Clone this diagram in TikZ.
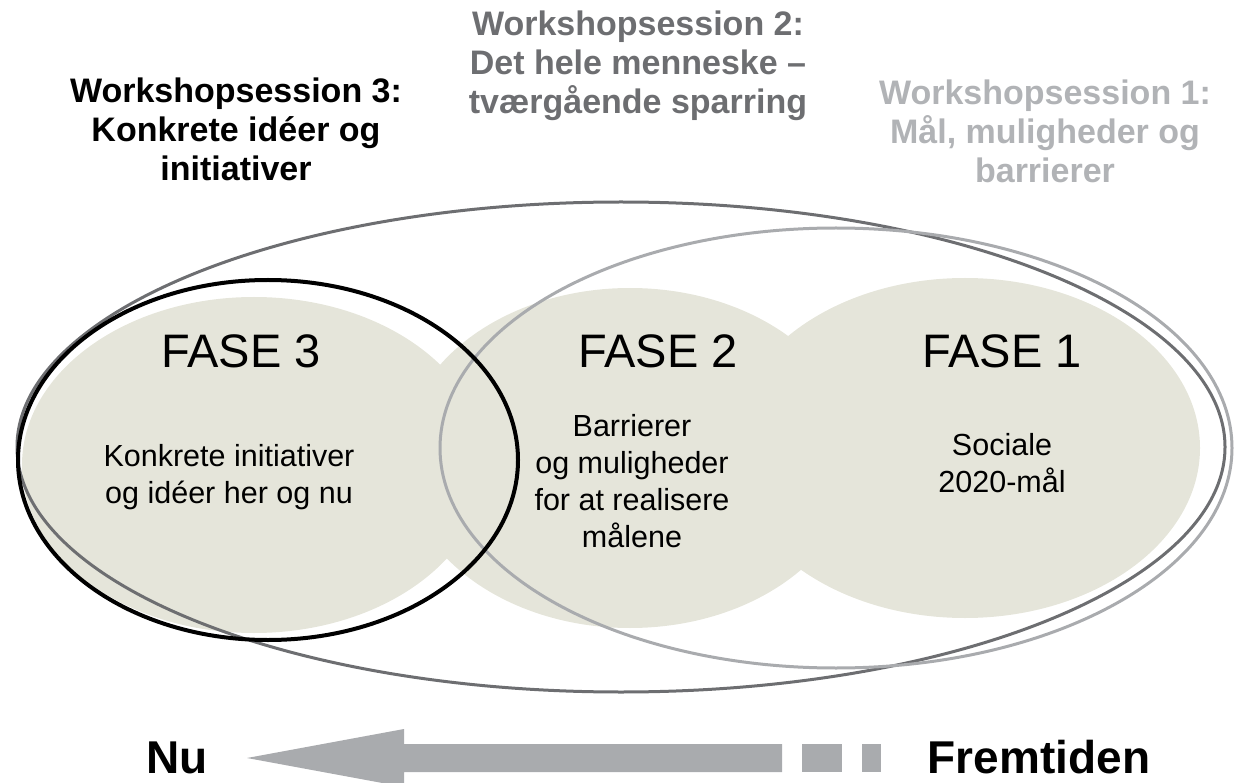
\documentclass[tikz,border=0pt]{standalone}
\usepackage{fontspec}
\setmainfont{Liberation Sans}
\usetikzlibrary{shapes,positioning}

\definecolor{fasebeige}{HTML}{E5E5DA}
\definecolor{darkring}{HTML}{6D6E71}
\definecolor{lightring}{HTML}{A9ABAE}
\definecolor{sessiongray}{HTML}{B1B3B6}

\begin{document}
\begin{tikzpicture}[x=1pt,y=-1pt]

    \tikzstyle{fase} = [ellipse, fill=fasebeige, inner sep=0pt]

    \tikzstyle{ring} = [ellipse, draw, line width=3pt, inner sep=0pt]

    \tikzstyle{fasetitle} = [anchor=base, inner sep=0pt,
        font=\fontsize{47}{56}\selectfont]

    \tikzstyle{fasetext} = [anchor=base, inner sep=0pt, align=center,
        font=\fontsize{30.5}{37}\selectfont]

    \tikzstyle{session} = [anchor=base, inner sep=0pt, align=center,
        font=\fontsize{34}{39}\selectfont\bfseries]

    \tikzstyle{timelabel} = [anchor=base, inner sep=0pt,
        font=\fontsize{46}{55}\selectfont\bfseries]

    \useasboundingbox (0,0) rectangle (1234,783);

    % Faser
    \node [fase, minimum width=464pt, minimum height=336pt] (f3) at (254,465) {};
    \node [fase, minimum width=454pt, minimum height=340pt] (f2) at (630,458) {};
    \node [fase, minimum width=470pt, minimum height=340pt] (f1) at (965,448) {};

    % Workshopsessioner
    \node [ring, draw=darkring, minimum width=1208pt, minimum height=490pt] (r2) at (621,447) {};
    \node [ring, draw=lightring, minimum width=792pt, minimum height=440pt] (r1) at (836,448) {};
    \node [ring, draw=black, line width=4pt, minimum width=500pt, minimum height=360pt] (r3) at (268,460) {};

    % Tekster i faserne (base = sidste linje)
    \node [fasetitle] (ft3) at (241,367) {FASE 3};
    \node [fasetitle] (ft2) at (658,367) {FASE 2};
    \node [fasetitle] (ft1) at (1002,367) {FASE 1};

    \node [fasetext] (fd3) at (229,503) {Konkrete initiativer\\og idéer her og nu};
    \node [fasetext] (fd2) at (632,547) {Barrierer\\og muligheder\\for at realisere\\målene};
    \node [fasetext] (fd1) at (1002,492) {Sociale\\ 2020-mål};

    % Overskrifter
    \node [session, text=black] (s3) at (236,181) {Workshopsession 3:\\Konkrete idéer og\\initiativer};
    \node [session, text=darkring] (s2) at (638,114) {Workshopsession 2:\\Det hele menneske –\\tværgående sparring};
    \node [session, text=sessiongray] (s1) at (1045,183) {Workshopsession 1:\\Mål, muligheder og\\barrierer};

    % Tidslinje
    \node [timelabel] (nu) at (177,773) {Nu};
    \node [timelabel] (fremtid) at (1039,773) {Fremtiden};

    \coordinate (tip) at (247,758);
    \fill [lightring] (tip) -- (404,729) -- (404,744) -- (782,744)
        -- (782,772) -- (404,772) -- (404,787) -- cycle;
    \fill [lightring] (802,744) rectangle (842,772);
    \fill [lightring] (862,744) rectangle (881,772);

\end{tikzpicture}
\end{document}
